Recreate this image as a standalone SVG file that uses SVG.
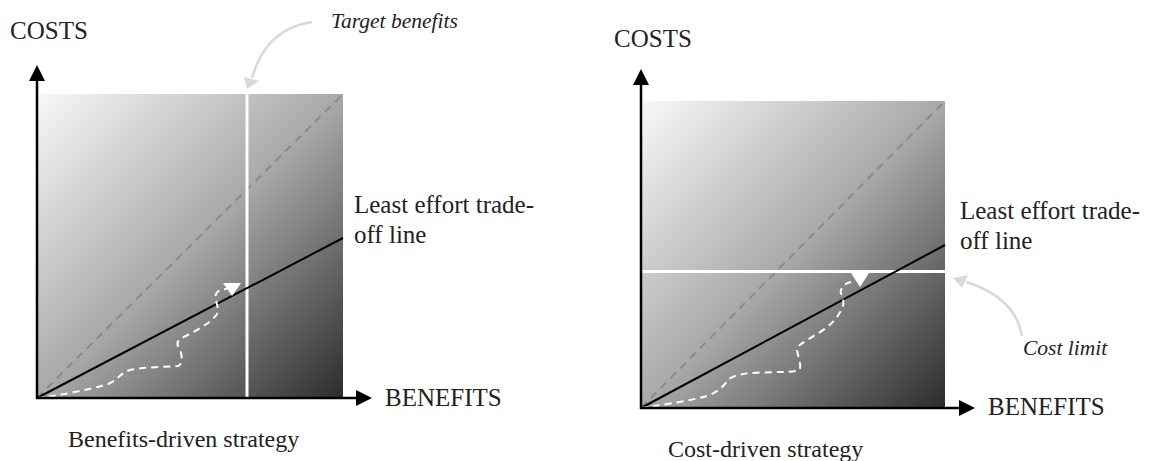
<svg xmlns="http://www.w3.org/2000/svg" width="1151" height="461" viewBox="0 0 1151 461">
<style>
  .lbl{font-family:"Liberation Serif","Times New Roman",serif;font-size:25px;fill:#222}
  .cap{font-family:"Liberation Serif","Times New Roman",serif;font-size:24px;fill:#222}
  .it{font-family:"Liberation Serif","Times New Roman",serif;font-size:21.5px;font-style:italic;fill:#222}
  .axis{stroke:#000;stroke-width:2.5;fill:none}
  .head{fill:#000}
  .diag{stroke:#8a8a8a;stroke-width:2;stroke-dasharray:8 6;fill:none}
  .trade{stroke:#000;stroke-width:2;fill:none}
  .limit{stroke:#fff;stroke-width:3;fill:none}
  .path{stroke:#fff;stroke-width:2;stroke-dasharray:7 5;fill:none}
  .callout{stroke:#d9d9d9;stroke-width:2.5;fill:none}
  .chead{fill:#d9d9d9}
</style>
<defs>
  <linearGradient id="g" x1="0" y1="0" x2="1" y2="1">
    <stop offset="0" stop-color="#f8f8f8"/>
    <stop offset="0.5" stop-color="#a9a9a9"/>
    <stop offset="1" stop-color="#2c2c2c"/>
  </linearGradient>
</defs>
<rect width="1151" height="461" fill="#fff"/>

<g id="chart-benefits">
  <rect x="38" y="94" width="305" height="304" fill="url(#g)"/>
  <line class="diag" x1="37" y1="398" x2="343" y2="94"/>
  <line class="limit" x1="247" y1="94" x2="247" y2="398"/>
  <line class="trade" x1="37" y1="398" x2="343" y2="238"/>
  <path class="path" d="M37,398 C55,396 90,390 108,384 C118,380 120,373 130,370 C145,367 165,367 178,366 C184,364 182,352 178,346 C175,340 184,337 190,334 C200,328 212,322 217,314 C220,308 214,300 216,294 C218,290 222,289 227,289"/>
  <polygon fill="#fff" points="223,283 241,283 232,296"/>
</g>
<g id="axes-benefits">
  <line class="axis" x1="37" y1="399" x2="37" y2="78"/>
  <polygon class="head" points="37,65 29,81 45,81"/>
  <line class="axis" x1="36" y1="398" x2="358" y2="398"/>
  <polygon class="head" points="372,398 356,390 356,406"/>
</g>
<g id="labels-benefits">
  <text class="lbl" x="10" y="39">COSTS</text>
  <text class="lbl" x="385" y="406">BENEFITS</text>
  <text class="lbl" x="354" y="213">Least effort trade-</text>
  <text class="lbl" x="354" y="243">off line</text>
  <text class="it" x="331" y="28">Target benefits</text>
  <text class="cap" x="68" y="447">Benefits-driven strategy</text>
</g>

<g id="chart-cost">
  <rect x="642" y="101" width="303" height="307" fill="url(#g)"/>
  <line class="diag" x1="641" y1="408" x2="945" y2="101"/>
  <line class="limit" x1="642" y1="271.5" x2="945" y2="271.5"/>
  <line class="trade" x1="641" y1="408" x2="945" y2="245"/>
  <path class="path" d="M641,408 C655,406 690,401 707,396 C718,392 724,386 728,380 C733,375 745,373 760,372.5 C780,372 795,372 799,370 C803,366 796,352 797,348 C800,343 815,336 826,328 C834,322 840,314 843,306 C845,298 839,293 841,290 C843,285 846,283 851,282"/>
  <polygon fill="#fff" points="851,273 869,273 860,287"/>
</g>
<g id="axes-cost">
  <line class="axis" x1="641" y1="409" x2="641" y2="83"/>
  <polygon class="head" points="641,69 633,85 649,85"/>
  <line class="axis" x1="640" y1="408" x2="961" y2="408"/>
  <polygon class="head" points="975,408 959,400 959,416"/>
</g>
<g id="labels-cost">
  <text class="lbl" x="614" y="47">COSTS</text>
  <text class="lbl" x="988" y="415">BENEFITS</text>
  <text class="lbl" x="960" y="219">Least effort trade-</text>
  <text class="lbl" x="960" y="249">off line</text>
  <text class="it" x="1023" y="355">Cost limit</text>
  <text class="cap" x="668" y="457">Cost-driven strategy</text>
</g>

<g id="connectors">
  <path class="callout" d="M312,22 C285,26 262,42 252,78"/>
  <polygon class="chead" points="244,77 259,81 247,89"/>
  <path class="callout" d="M1022,336 C1018,312 1000,292 966,282"/>
  <polygon class="chead" points="953,278 962,288 968,275"/>
</g>
</svg>
